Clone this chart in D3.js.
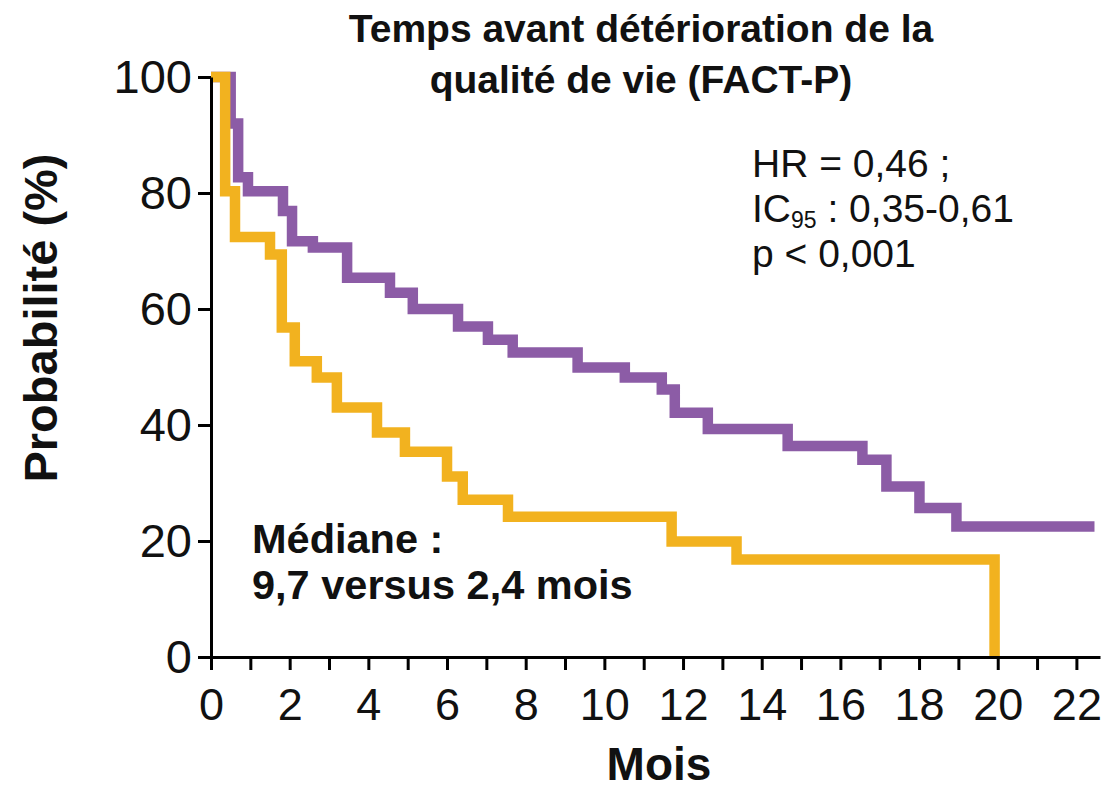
<!DOCTYPE html>
<html>
<head>
<meta charset="utf-8">
<script src="https://cdn.jsdelivr.net/npm/d3@7"></script>
<style>
  html, body { margin: 0; padding: 0; background: #fff; }
  svg text { font-family: "Liberation Sans", Arial, sans-serif; fill: #111; }
</style>
</head>
<body>
<svg id="chart" width="1110" height="792"></svg>
<script>
// Kaplan-Meier curves: time (months) and survival probability (%) after each step
const armA_times = [0, 0.5, 0.69, 0.94, 1.83, 2.06, 2.59, 3.46, 4.55, 5.13, 6.28, 7.04, 7.67, 9.32, 10.52, 11.46, 11.79, 12.63, 14.66, 16.56, 17.17, 18.01, 18.95, 22.46];
const armA_surv  = [100, 92, 82.7, 80.3, 76.9, 71.7, 70.6, 65.4, 62.8, 60, 57, 54.7, 52.5, 49.9, 48.2, 46.1, 42.1, 39.3, 36.4, 34, 29.4, 25.7, 22.5, 22.5];

const armB_times = [0, 0.36, 0.61, 1.5, 1.8, 2.13, 2.69, 3.2, 4.22, 4.93, 6.0, 6.4, 7.55, 11.71, 13.36, 19.92];
const armB_surv  = [100, 80.3, 72.4, 69.4, 56.8, 51, 48.2, 43, 38.7, 35.4, 31.1, 27.1, 24.2, 19.9, 16.8, 0];

const yTicks = [0, 20, 40, 60, 80, 100];
const xTicks = d3.range(0, 23);

const titleLines = ["Temps avant détérioration de la", "qualité de vie (FACT-P)"];
const yLabel = "Probabilité (%)";
const xLabel = "Mois";
const medianLines = ["Médiane :", "9,7 versus 2,4 mois"];

const purple = "#8c5ca6";
const yellow = "#f2b21f";

const svg = d3.select("#chart");

const x = d3.scaleLinear().domain([0, 22.6]).range([211, 1100]);
const y = d3.scaleLinear().domain([0, 100]).range([657, 77]);

// curves
const line = d3.line()
  .x(d => x(d[0]))
  .y(d => y(d[1]))
  .curve(d3.curveStepAfter);

const armA = armA_times.map((t, i) => [t, armA_surv[i]]);
const armB = armB_times.map((t, i) => [t, armB_surv[i]]);

svg.append("path").datum(armA)
  .attr("d", line)
  .attr("fill", "none")
  .attr("stroke", purple)
  .attr("stroke-width", 10.5);

svg.append("path").datum(armB)
  .attr("d", line)
  .attr("fill", "none")
  .attr("stroke", yellow)
  .attr("stroke-width", 10.5);

// axes
const yAxis = d3.axisLeft(y).tickValues(yTicks).tickSize(13).tickSizeOuter(0).tickPadding(6);
const gy = svg.append("g").attr("transform", `translate(${x(0)},0)`).call(yAxis);
gy.select(".domain").attr("stroke-width", 3).attr("stroke", "#000");
gy.selectAll(".tick line").attr("stroke-width", 3).attr("stroke", "#000");
gy.selectAll(".tick text").attr("font-size", 47).attr("fill", "#111");

const xAxis = d3.axisBottom(x).tickValues(xTicks).tickSize(13).tickSizeOuter(0).tickPadding(18)
  .tickFormat(d => d % 2 === 0 ? d : "");
const gx = svg.append("g").attr("transform", `translate(0,${y(0)})`).call(xAxis);
gx.select(".domain").attr("stroke-width", 3).attr("stroke", "#000");
gx.selectAll(".tick line").attr("stroke-width", 3).attr("stroke", "#000");
gx.selectAll(".tick text").attr("font-size", 45).attr("fill", "#111");

// title
svg.append("text")
  .attr("text-anchor", "middle")
  .attr("font-weight", "bold").attr("font-size", 39)
  .selectAll("tspan").data(titleLines).join("tspan")
  .attr("x", 641)
  .attr("y", (d, i) => 42 + i * 51)
  .text(d => d);

// statistics
const sx = 752;
const stats = svg.append("text").attr("font-size", 39);
stats.append("tspan").attr("x", sx).attr("y", 177).text("HR = 0,46 ;");
stats.append("tspan").attr("x", sx).attr("y", 222).text("IC");
stats.append("tspan").attr("font-size", 23).attr("dy", 6).text("95");
stats.append("tspan").attr("dy", -6).text(" : 0,35-0,61");
stats.append("tspan").attr("x", sx).attr("y", 267).text("p < 0,001");

// median note
svg.append("text")
  .attr("font-weight", "bold").attr("font-size", 41.5)
  .selectAll("tspan").data(medianLines).join("tspan")
  .attr("x", 252)
  .attr("y", (d, i) => 553 + i * 46)
  .text(d => d);

// axis titles
svg.append("text")
  .attr("transform", "translate(57,318) rotate(-90)")
  .attr("text-anchor", "middle")
  .attr("font-weight", "bold").attr("font-size", 47)
  .text(yLabel);

svg.append("text")
  .attr("x", 659).attr("y", 780)
  .attr("text-anchor", "middle")
  .attr("font-weight", "bold").attr("font-size", 46)
  .text(xLabel);
</script>
</body>
</html>
